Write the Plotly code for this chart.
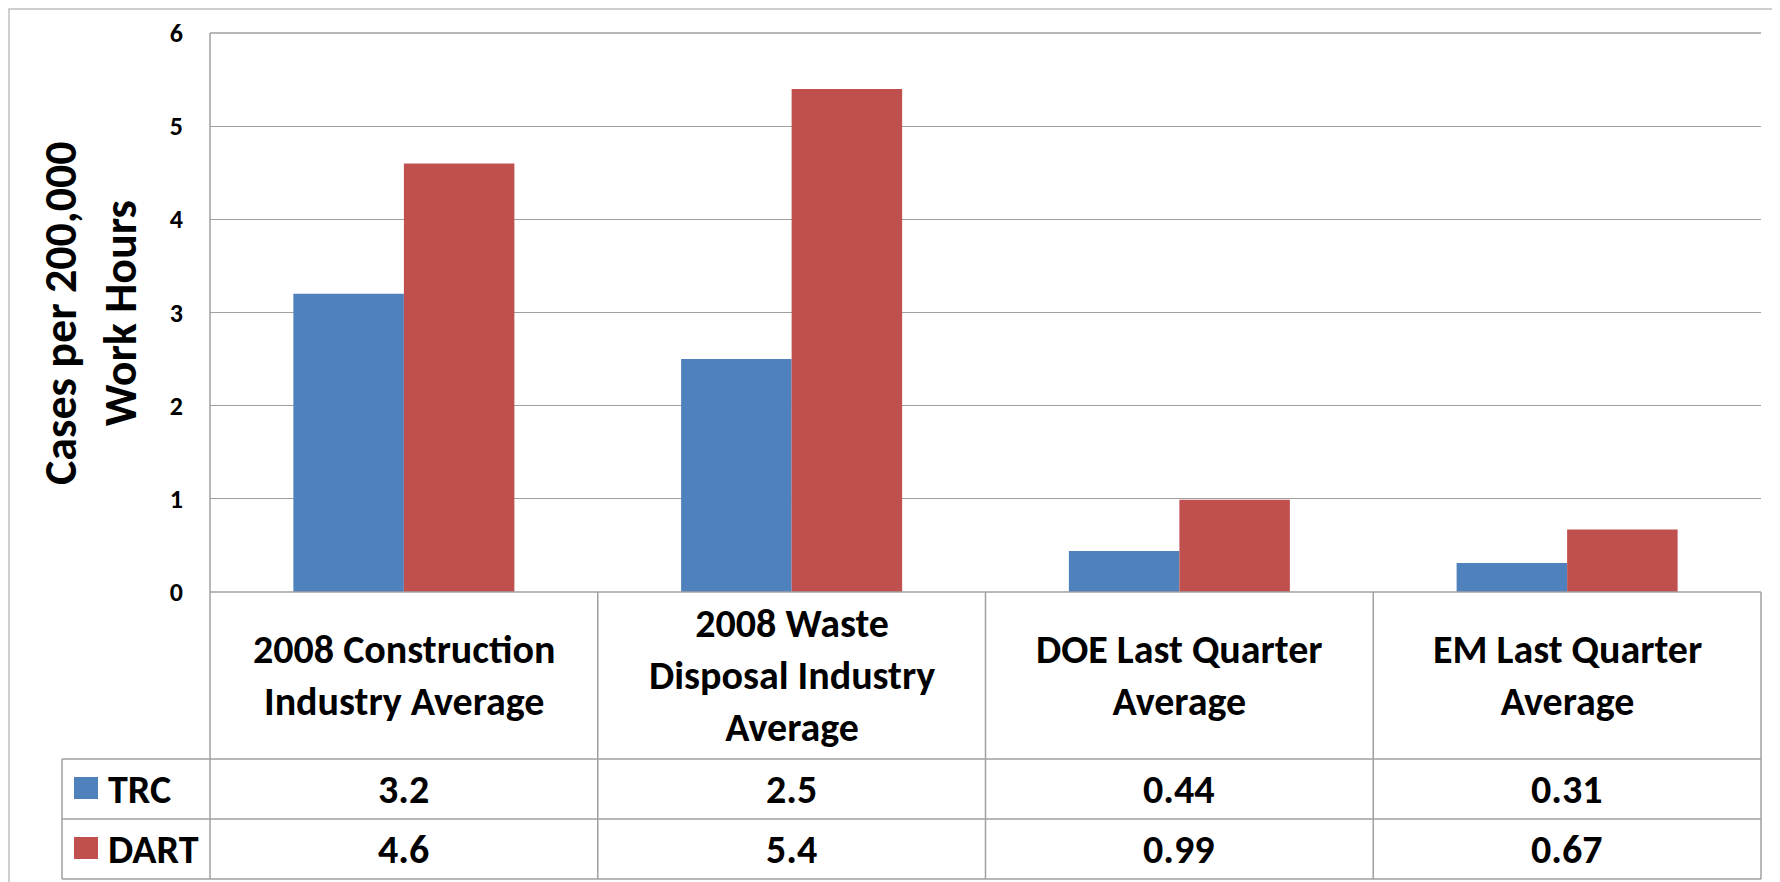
import plotly.graph_objects as go

# ---- data ----
categories = ["2008 Construction<br>Industry Average",
              "2008 Waste<br>Disposal Industry<br>Average",
              "DOE Last Quarter<br>Average",
              "EM Last Quarter<br>Average"]
series_names = ["TRC", "DART"]
trc_values = [3.2, 2.5, 0.44, 0.31]
dart_values = [4.6, 5.4, 0.99, 0.67]
trc_labels = ["3.2", "2.5", "0.44", "0.31"]
dart_labels = ["4.6", "5.4", "0.99", "0.67"]
y_ticks = [0, 1, 2, 3, 4, 5, 6]
y_title = "Cases per 200,000<br>Work Hours"

# ---- style ----
VW, VH = 1780, 882          # browser window
OFF = 8                     # default body margin of the page
W, H = VW - OFF, VH - OFF   # figure size so the page fits the window
BLUE = "#4F81BD"
RED = "#C0504D"
GRID = "#A0A0A0"
FONT = "Carlito, Lato, sans-serif"

def px(x):
    return (x - OFF) / W

def py(y):
    return 1 - (y - OFF) / H

X0, X1 = 210, 1761          # plot area left/right (window px)
Y0, Y6 = 592, 33            # y=0 and y=6 (window px)
ROW_CAT_BOTTOM = 759
ROW_TRC_BOTTOM = 819
ROW_DART_BOTTOM = 879
LEG_LEFT = 62

fig = go.Figure()
fig.add_trace(go.Bar(x=categories, y=trc_values, name=series_names[0],
                     marker=dict(color=BLUE, line=dict(width=0))))
fig.add_trace(go.Bar(x=categories, y=dart_values, name=series_names[1],
                     marker=dict(color=RED, line=dict(width=0))))

fig.update_layout(
    width=W, height=H,
    margin=dict(l=0, r=0, t=0, b=0, autoexpand=False),
    paper_bgcolor="white", plot_bgcolor="white",
    barmode="group", bargap=0.43, bargroupgap=0,
    showlegend=False,
    font=dict(family=FONT, color="black"),
    xaxis=dict(domain=[px(X0), px(X1)], showticklabels=False, automargin=False,
               showgrid=False, zeroline=False, showline=False, ticks=""),
    yaxis=dict(domain=[py(Y0), py(Y6)], range=[0, 6], tickvals=y_ticks,
               automargin=False,
               showgrid=True, gridcolor=GRID, gridwidth=1.3,
               zeroline=False, showline=False, ticks="",
               ticklabelstandoff=26,
               tickfont=dict(family=FONT, size=26, weight="bold", color="black")),
)

shapes = []
def line(x0, y0, x1, y1, color=GRID, w=1.5):
    shapes.append(dict(type="line", xref="paper", yref="paper",
                       x0=px(x0), y0=py(y0), x1=px(x1), y1=py(y1),
                       line=dict(color=color, width=w)))

# outer chart frame
shapes.append(dict(type="rect", xref="paper", yref="paper",
                   x0=px(9), y0=py(VH + 10), x1=px(VW + 10), y1=py(9),
                   line=dict(color="#BFBFBF", width=1.5), fillcolor="rgba(0,0,0,0)"))
# plot area top border
line(X0, Y6, X1, Y6)
# left axis line (through table)
line(X0, Y6, X0, ROW_DART_BOTTOM)
# zero line / table top
line(X0, Y0, X1, Y0)
# table horizontal lines
for yy in (ROW_CAT_BOTTOM, ROW_TRC_BOTTOM, ROW_DART_BOTTOM):
    line(LEG_LEFT, yy, X1, yy)
# legend column left border
line(LEG_LEFT, ROW_CAT_BOTTOM, LEG_LEFT, ROW_DART_BOTTOM)
# column dividers
ncat = len(categories)
colw = (X1 - X0) / ncat
for i in range(1, ncat + 1):
    xx = X0 + i * colw
    line(xx, Y0, xx, ROW_DART_BOTTOM)

# legend keys in table
for color, (ya, yb) in ((BLUE, (777, 799)), (RED, (837, 859))):
    shapes.append(dict(type="rect", xref="paper", yref="paper",
                       x0=px(74), x1=px(98), y0=py(yb), y1=py(ya),
                       fillcolor=color, line=dict(width=0)))
fig.update_layout(shapes=shapes)

ann = []
tf = dict(family=FONT, size=40, weight="bold", color="black")
# category labels
for c in categories:
    ann.append(dict(x=c, xref="x", y=py((Y0 + ROW_CAT_BOTTOM) / 2), yref="paper",
                    text=c, showarrow=False, font=tf, align="center",
                    xanchor="center", yanchor="middle"))
# values
for c, t in zip(categories, trc_labels):
    ann.append(dict(x=c, xref="x", y=py((ROW_CAT_BOTTOM + ROW_TRC_BOTTOM) / 2), yref="paper",
                    text=t, showarrow=False, font=tf, xanchor="center", yanchor="middle"))
for c, t in zip(categories, dart_labels):
    ann.append(dict(x=c, xref="x", y=py((ROW_TRC_BOTTOM + ROW_DART_BOTTOM) / 2), yref="paper",
                    text=t, showarrow=False, font=tf, xanchor="center", yanchor="middle"))
# series names
for name, yy in zip(series_names, ((ROW_CAT_BOTTOM + ROW_TRC_BOTTOM) / 2,
                                   (ROW_TRC_BOTTOM + ROW_DART_BOTTOM) / 2)):
    ann.append(dict(x=px(106), xref="paper", y=py(yy), yref="paper",
                    text=name, showarrow=False, font=tf, xanchor="left", yanchor="middle"))
# y-axis title
ann.append(dict(x=px(90), xref="paper", y=py(313), yref="paper",
                text=y_title, showarrow=False, textangle=-90, align="center",
                font=dict(family=FONT, size=46, weight="bold", color="black"),
                xanchor="center", yanchor="middle"))
fig.update_layout(annotations=ann)

fig.write_html("out.html")
